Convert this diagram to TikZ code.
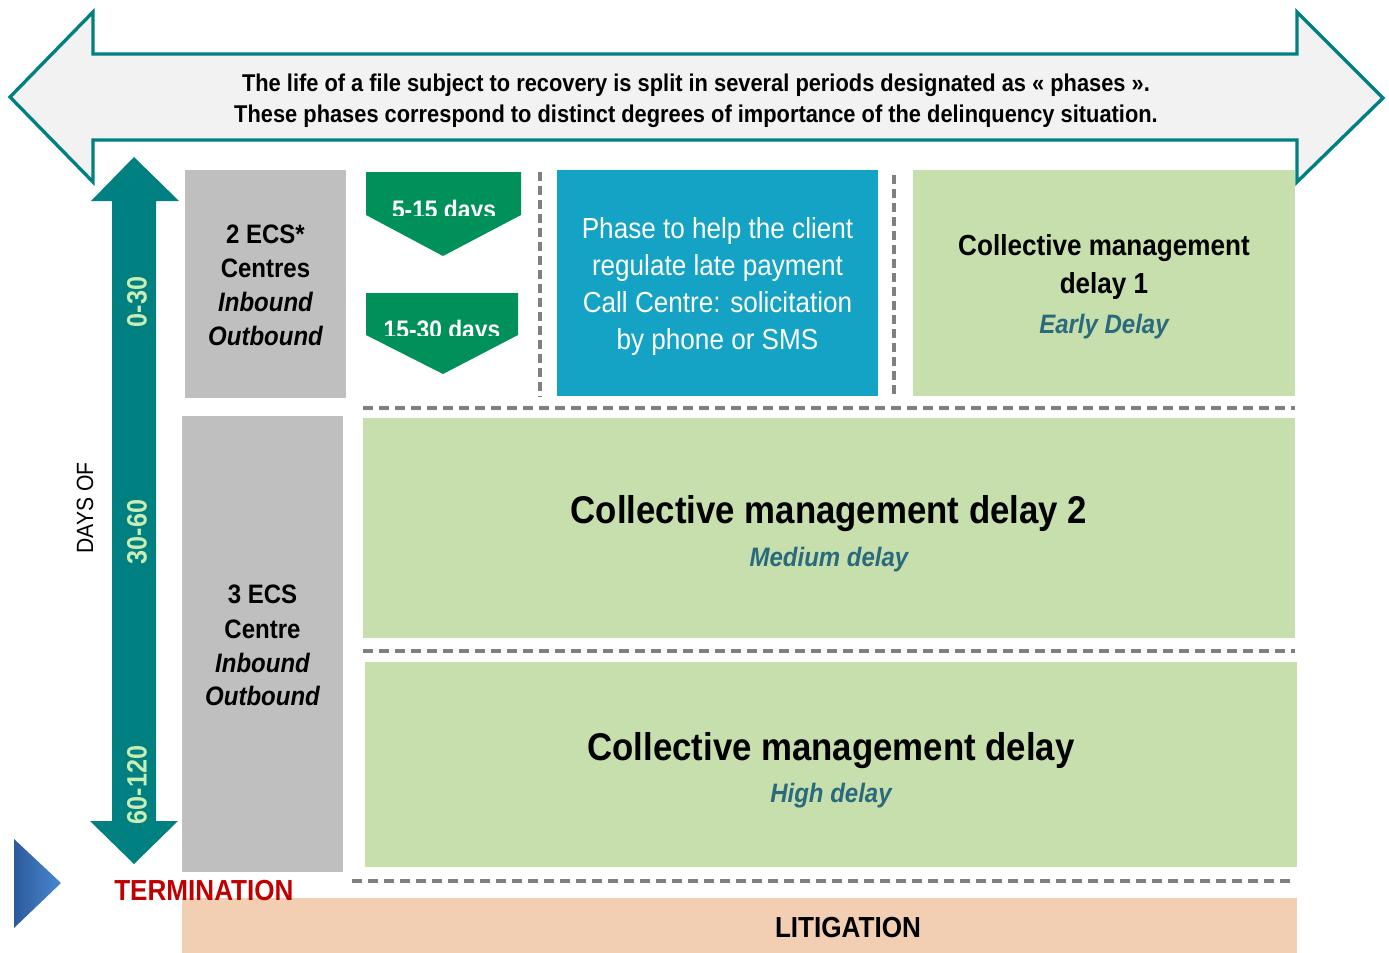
\documentclass[tikz,border=0pt]{standalone}
\usepackage{fontspec}
\setmainfont{Liberation Sans}[FakeStretch=0.9]
\definecolor{tealA}{HTML}{008080}
\definecolor{arrowfill}{HTML}{F2F2F2}
\definecolor{dashgray}{HTML}{808080}
\definecolor{grayA}{HTML}{BFBFBF}
\definecolor{greenA}{HTML}{C6DFAC}
\definecolor{blueA}{HTML}{14A3C5}
\definecolor{pentgreen}{HTML}{00915A}
\definecolor{litig}{HTML}{F2CFB3}
\definecolor{redA}{HTML}{C00000}
\definecolor{subcol}{HTML}{2B6A7D}
\definecolor{digcol}{HTML}{C8EDB5}
\definecolor{triA}{HTML}{2C5A9A}
\definecolor{triB}{HTML}{4A88D2}
\begin{document}
\begin{tikzpicture}[x=0.75pt,y=-0.75pt,
  txt/.style={anchor=base, inner sep=0pt},
  hdash/.style={draw=dashgray, line width=3pt, dash pattern=on 7.5pt off 4.5pt},
  vdash/.style={draw=dashgray, line width=3pt, dash pattern=on 7pt off 3.5pt},
  ftop/.style={font=\fontsize{18.2pt}{22pt}\selectfont\bfseries},
  fmid/.style={font=\fontsize{21.75pt}{26pt}\selectfont\bfseries},
  freg/.style={font=\fontsize{21.75pt}{26pt}\selectfont},
  fbig/.style={font=\fontsize{29pt}{34pt}\selectfont\bfseries},
  fsub/.style={font=\fontsize{20pt}{24pt}\selectfont\bfseries\itshape, text=subcol},
  fgray/.style={font=\fontsize{20pt}{24pt}\selectfont\bfseries},
  fgrayit/.style={font=\fontsize{20pt}{24pt}\selectfont\bfseries\itshape},
  fdays/.style={font=\fontsize{19pt}{23pt}\selectfont\bfseries, text=white},
  fdig/.style={font=\fontsize{21pt}{25pt}\selectfont\bfseries, text=digcol, rotate=90, inner sep=0pt},
]
\useasboundingbox (0,0) rectangle (1389,953);
\fill[white] (0,0) rectangle (1389,953);

% boxes
\fill[grayA] (185,170) rectangle (346,398);
\fill[grayA] (182,416) rectangle (343,872);
\fill[blueA] (557,170) rectangle (878,396);
\fill[greenA] (913,170) rectangle (1295,396);
\fill[greenA] (363,418) rectangle (1295,638);
\fill[greenA] (365,662) rectangle (1297,867);
\fill[litig] (182,898) rectangle (1297,953);

% dashed separators
\draw[vdash] (540,172) -- (540,397);
\draw[vdash] (894,175) -- (894,395);
\draw[hdash] (363,408) -- (1295,408);
\draw[hdash] (363,651) -- (1295,651);
\draw[hdash] (352,881) -- (1295,881);

% big double arrow
\draw[draw=tealA, line width=2.5pt, fill=arrowfill, line join=miter]
  (10,97) -- (93,12) -- (93,54) -- (1297,54) -- (1297,12) -- (1383,98)
  -- (1297,182) -- (1297,140) -- (93,140) -- (93,182) -- cycle;
\node[txt, ftop] (top1) at (696,91) {The life of a file subject to recovery is split in several periods designated as « phases ».};
\node[txt, ftop] (top2) at (696,122) {These phases correspond to distinct degrees of importance of the delinquency situation.};

% vertical double arrow
\fill[tealA] (134,157) -- (179,201) -- (156,201) -- (156,821) -- (178,821)
  -- (134,864) -- (90,821) -- (112,821) -- (112,201) -- (91,201) -- cycle;
\node[fdig] (d1) at (137,302) {0-30};
\node[fdig] (d2) at (137,532) {30-60};
\node[fdig] (d3) at (137,785) {60-120};
\node[rotate=90, inner sep=0pt, font=\fontsize{17.6pt}{21pt}\selectfont] (daysof) at (85,508) {DAYS OF};

% pentagons
\fill[pentgreen] (366,172) -- (521,172) -- (521,215) -- (443,256) -- (366,215) -- cycle;
\fill[pentgreen] (366,293) -- (518,293) -- (518,335) -- (443,374) -- (366,335) -- cycle;
\begin{scope}
  \clip (366,172) rectangle (521,215);
  \node[txt, fdays] (p1) at (444,218) {5-15 days};
\end{scope}
\begin{scope}
  \clip (366,293) rectangle (518,335);
  \node[txt, fdays] (p2) at (442,338) {15-30 days};
\end{scope}

% gray box texts
\node[txt, fgray] (g1a) at (265.5,243) {2 ECS*};
\node[txt, fgray] (g1b) at (265.5,277) {Centres};
\node[txt, fgrayit] (g1c) at (265.5,311) {Inbound};
\node[txt, fgrayit] (g1d) at (265.5,345) {Outbound};
\node[txt, fgray] (g2a) at (262.5,603) {3 ECS};
\node[txt, fgray] (g2b) at (262.5,638) {Centre};
\node[txt, fgrayit] (g2c) at (262.5,672) {Inbound};
\node[txt, fgrayit] (g2d) at (262.5,705) {Outbound};

% blue box text
\node[txt, freg, text=white] (b1) at (717.5,238) {Phase to help the client};
\node[txt, freg, text=white] (b2) at (717.5,275) {regulate late payment};
\node[txt, freg, text=white] (b3) at (717.5,312) {Call Centre: solicitation};
\node[txt, freg, text=white] (b4) at (717.5,349) {by phone or SMS};

% green box texts
\node[txt, fmid] (c1a) at (1104,255) {Collective management};
\node[txt, fmid] (c1b) at (1104,293) {delay 1};
\node[txt, fsub] (c1c) at (1104,333) {Early Delay};
\node[txt, fbig] (c2a) at (829,523) {Collective management delay 2};
\node[txt, fsub] (c2b) at (829,566) {Medium delay};
\node[txt, fbig] (c3a) at (831,760) {Collective management delay};
\node[txt, fsub] (c3b) at (831,802) {High delay};

% litigation / termination
\node[txt, fmid] (lit) at (848,937) {LITIGATION};
\node[anchor=base west, inner sep=0pt, fmid, text=redA] (term) at (114,900) {TERMINATION};

% blue triangle marker
\shade[left color=triA, right color=triB] (14,839) -- (61,883) -- (14,928) -- cycle;
\end{tikzpicture}
\end{document}
